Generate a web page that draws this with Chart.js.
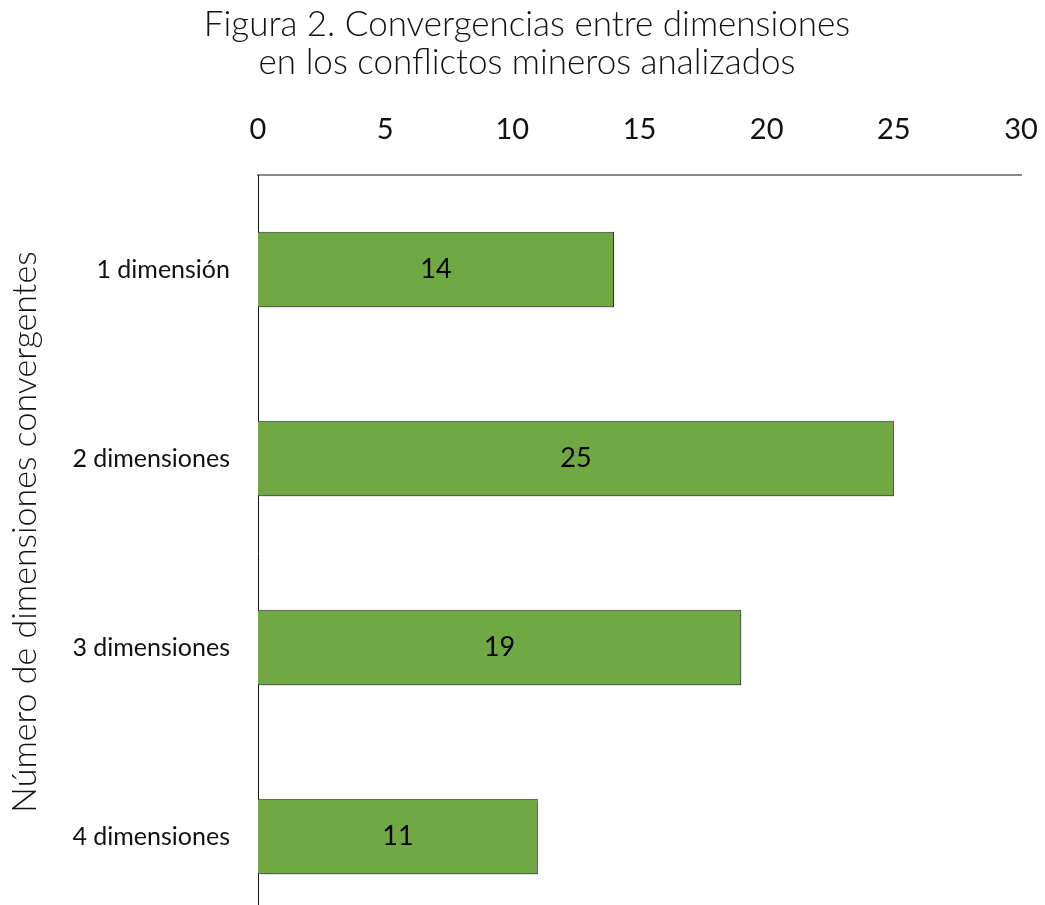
<!DOCTYPE html>
<html>
<head>
<meta charset="utf-8">
<script src="https://cdn.jsdelivr.net/npm/chart.js@4"></script>
<style>
  html, body { margin: 0; padding: 0; background: #fff; overflow: hidden; }
  #wrap { width: 1045px; height: 940px; }
</style>
</head>
<body>
<div id="wrap"><canvas id="chart" width="1045" height="940"></canvas></div>
<script>
// Chart data
const categories = ['1 dimensión', '2 dimensiones', '3 dimensiones', '4 dimensiones'];
const values = [14, 25, 19, 11];
const titleLines = ['Figura 2. Convergencias entre dimensiones', 'en los conflictos mineros analizados'];
const yTitle = 'Número de dimensiones convergentes';

const FONT = 'Lato, "Open Sans", sans-serif';

// Bar shadow
const shadowPlugin = {
    id: 'barShadow',
    beforeDatasetDraw(chart) {
        const ctx = chart.ctx;
        ctx.save();
        ctx.shadowColor = 'rgba(0,0,0,0.35)';
        ctx.shadowBlur = 3;
        ctx.shadowOffsetX = 2;
        ctx.shadowOffsetY = 2;
    },
    afterDatasetDraw(chart) {
        chart.ctx.restore();
    }
};

// Titles and value labels
const textPlugin = {
    id: 'texts',
    afterDraw(chart) {
        const ctx = chart.ctx;
        ctx.save();
        ctx.fillStyle = '#111';
        ctx.textAlign = 'center';
        ctx.textBaseline = 'middle';

        ctx.font = '300 35px ' + FONT;
        ctx.fillText(titleLines[0], 527, 25);
        ctx.fillText(titleLines[1], 527, 63);

        ctx.font = '300 34px ' + FONT;
        ctx.translate(25, 532);
        ctx.rotate(-Math.PI / 2);
        ctx.fillText(yTitle, 0, 0);
        ctx.restore();

        ctx.save();
        ctx.fillStyle = '#000';
        ctx.textAlign = 'center';
        ctx.textBaseline = 'middle';
        ctx.font = '27px ' + FONT;
        chart.getDatasetMeta(0).data.forEach((bar, i) => {
            ctx.fillText(String(values[i]), (bar.x + bar.base) / 2, bar.y);
        });
        ctx.restore();
    }
};

new Chart(document.getElementById('chart'), {
    type: 'bar',
    data: {
        labels: categories,
        datasets: [{
            data: values,
            backgroundColor: '#70a844',
            borderColor: '#2e2e2e',
            borderWidth: 1,
            categoryPercentage: 1,
            barPercentage: 0.4
        }]
    },
    options: {
        indexAxis: 'y',
        responsive: false,
        animation: false,
        layout: { padding: { left: 0, right: 24, top: 0, bottom: 9 } },
        plugins: {
            legend: { display: false },
            tooltip: { enabled: false },
            title: { display: false }
        },
        scales: {
            x: {
                position: 'top',
                min: 0,
                max: 30,
                ticks: {
                    stepSize: 5,
                    color: '#111',
                    font: { family: FONT, size: 29 },
                    padding: 28
                },
                grid: { display: false, drawTicks: false },
                border: { display: true, color: '#8a8a8a', width: 2 },
                afterFit(scale) {
                    scale.height = 175;
                    scale.paddingLeft = 0;
                    scale.paddingRight = 0;
                }
            },
            y: {
                ticks: {
                    color: '#111',
                    font: { family: FONT, size: 25 },
                    padding: 28
                },
                grid: { display: false, drawTicks: false },
                border: { display: true, color: '#111', width: 1 },
                afterFit(scale) {
                    scale.width = 258;
                    scale.paddingTop = 0;
                    scale.paddingBottom = 0;
                }
            }
        }
    },
    plugins: [shadowPlugin, textPlugin]
});
</script>
</body>
</html>
